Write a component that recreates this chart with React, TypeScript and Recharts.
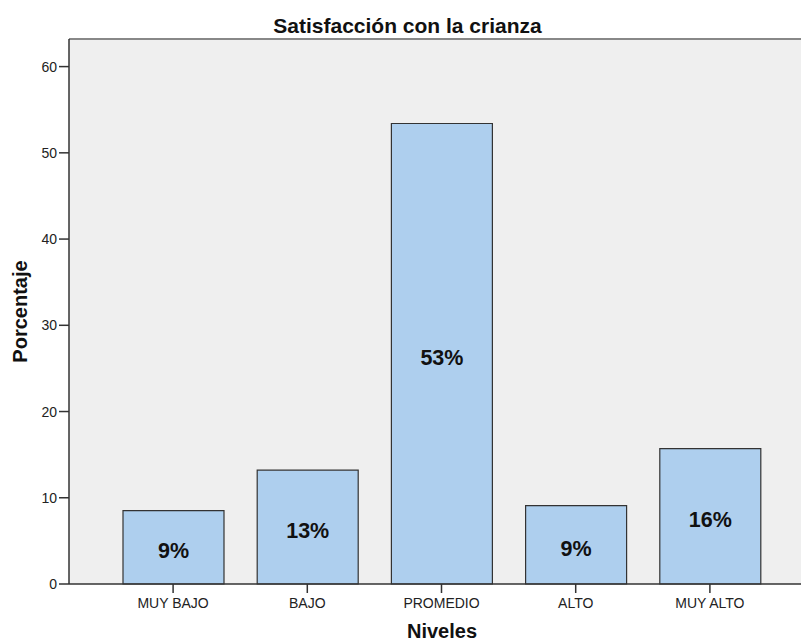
import { BarChart, Bar, XAxis, YAxis, CartesianGrid, ReferenceLine, LabelList } from 'recharts'

const niveles = ['MUY BAJO', 'BAJO', 'PROMEDIO', 'ALTO', 'MUY ALTO']
const porcentajes = [8.5, 13.2, 53.4, 9.1, 15.7]
const yTicks = [0, 10, 20, 30, 40, 50, 60]
const Y_MAX = 63.2

const data = niveles.map((name, i) => ({ name, value: porcentajes[i] }))

const FONT = '"Liberation Sans", Arial, sans-serif'

export default function App() {
  return (
    <div style={{ position: 'absolute', left: 0, top: 0, width: 801, height: 642, background: '#fff', fontFamily: FONT }}>
      <svg width={801} height={40} style={{ position: 'absolute', left: 0, top: 0 }}>
        <text x={407.5} y={32.5} textAnchor="middle" fontSize={21} fontWeight="bold" fill="#111" fontFamily={FONT}>
          Satisfacción con la crianza
        </text>
      </svg>
      <div style={{ position: 'absolute', left: 0, top: 0 }}>
        <BarChart width={801} height={642} data={data} margin={{ top: 39, right: 0, left: 0, bottom: 0 }}>
          <CartesianGrid horizontal={false} vertical={false} fill="#EFEFEF" />
          <XAxis
            dataKey="name"
            height={58}
            padding={{ left: 37, right: 24 }}
            tickSize={9}
            tickMargin={5}
            tick={{ fontSize: 14, fill: '#222', fontFamily: FONT }}
            axisLine={{ stroke: '#333', strokeWidth: 1.5 }}
            tickLine={{ stroke: '#333', strokeWidth: 1.5 }}
            label={{ value: 'Niveles', position: 'insideBottom', offset: 4, dx: 7, fontSize: 20, fontWeight: 'bold', fill: '#111', fontFamily: FONT }}
          />
          <YAxis
            width={69}
            domain={[0, Y_MAX]}
            ticks={yTicks}
            tickSize={10}
            tickMargin={2}
            tick={{ fontSize: 14, fill: '#222', fontFamily: FONT }}
            axisLine={{ stroke: '#333', strokeWidth: 1.5 }}
            tickLine={{ stroke: '#333', strokeWidth: 1.5 }}
            label={{ value: 'Porcentaje', angle: -90, position: 'insideLeft', offset: 20, fontSize: 20, fontWeight: 'bold', fill: '#111', fontFamily: FONT, style: { textAnchor: 'middle' } }}
          />
          <ReferenceLine y={Y_MAX} stroke="#888" strokeWidth={2} />
          <Bar dataKey="value" fill="#AECFEE" stroke="#333" strokeWidth={1.2} barSize={101} isAnimationActive={false}>
            <LabelList
              dataKey="value"
              position="center"
              dy={3.5}
              formatter={(v: number) => `${Math.round(v)}%`}
              style={{ fontSize: 21.5, fontWeight: 'bold', fill: '#111', fontFamily: FONT }}
            />
          </Bar>
        </BarChart>
      </div>
    </div>
  )
}
